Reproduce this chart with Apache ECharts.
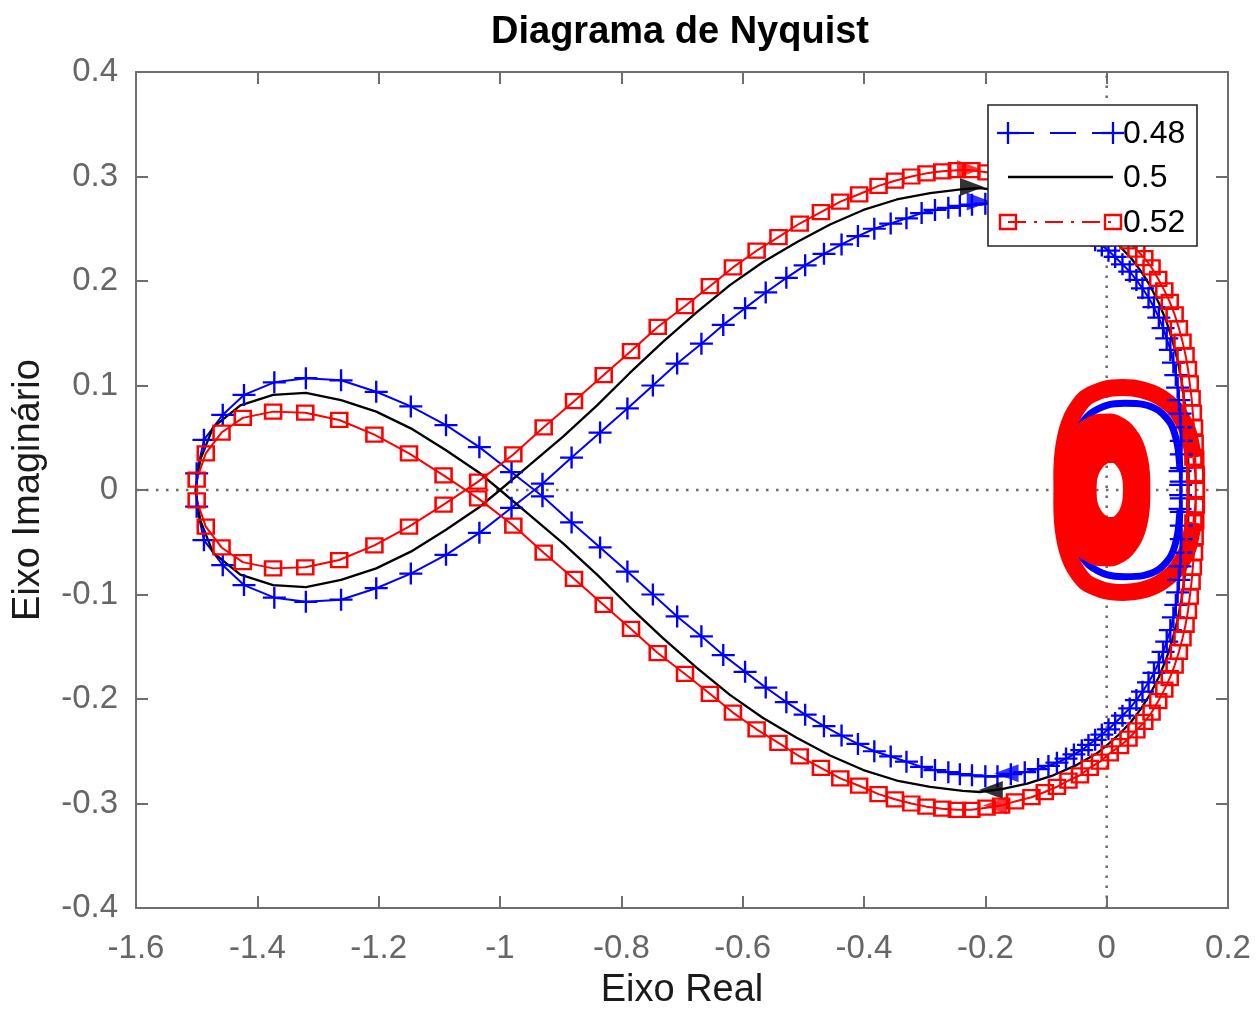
<!DOCTYPE html>
<html>
<head>
<meta charset="utf-8">
<title>Diagrama de Nyquist</title>
<script src="https://cdn.jsdelivr.net/npm/echarts@6/dist/echarts.min.js"></script>
<style>
  html, body { margin: 0; padding: 0; background: #ffffff; }
  #chart { width: 1257px; height: 1012px; }
</style>
</head>
<body>
<div id="chart"></div>
<script>
// Nyquist curves for three gain values. Each branch holds the positive-frequency
// half (from the low-frequency point near -1.5 outward); the negative-frequency
// half is its complex conjugate.

const legendNames = ['0.48', '0.5', '0.52'];

// gain 0.48 (blue, '+')
const blueBranch = [
  [-1.500,-0.016],[-1.488,-0.048],[-1.457,-0.072],[-1.422,-0.091],[-1.372,-0.103],[-1.320,-0.107],
  [-1.262,-0.105],[-1.204,-0.094],[-1.147,-0.080],[-1.089,-0.062],[-1.034,-0.041],[-0.981,-0.017],
  [-0.930,0.006],[-0.882,0.031],[-0.835,0.055],[-0.790,0.078],[-0.748,0.100],[-0.708,0.121],
  [-0.668,0.140],[-0.632,0.158],[-0.596,0.174],[-0.562,0.189],[-0.528,0.203],[-0.497,0.215],
  [-0.466,0.226],[-0.437,0.235],[-0.410,0.243],[-0.383,0.250],[-0.356,0.255],[-0.330,0.260],
  [-0.305,0.265],[-0.283,0.268],[-0.261,0.270],[-0.242,0.272],[-0.222,0.273],[-0.200,0.274],
  [-0.180,0.274],[-0.158,0.272],[-0.135,0.270],[-0.113,0.267],[-0.096,0.264],[-0.082,0.261],
  [-0.067,0.257],[-0.054,0.253],[-0.041,0.249],[-0.030,0.244],[-0.019,0.239],[-0.008,0.234],
  [0.003,0.229],[0.014,0.223],[0.026,0.216],[0.038,0.209],[0.049,0.201],[0.059,0.193],
  [0.069,0.184],[0.078,0.175],[0.086,0.165],[0.093,0.155],[0.099,0.145],[0.105,0.134],
  [0.110,0.122],[0.114,0.110],[0.117,0.098],[0.119,0.086],[0.121,0.073],[0.122,0.060],
  [0.123,0.047],[0.123,0.034],[0.123,0.021],[0.123,0.008],[0.122,-0.005],[0.121,-0.018]
];
const blueSpiral = [
  [0.121,-0.018],[0.117,-0.042],[0.106,-0.063],[0.086,-0.076],[0.060,-0.082],[0.030,-0.083],
  [0.000,-0.081],[-0.027,-0.073],[-0.049,-0.058],[-0.063,-0.038],[-0.068,-0.012],[-0.065,0.014],
  [-0.055,0.035],[-0.038,0.050],[-0.016,0.058],[0.007,0.059],[0.027,0.053],[0.042,0.041],
  [0.050,0.024],[0.052,0.004],[0.049,-0.016],[0.041,-0.033],[0.027,-0.045],[0.010,-0.050],
  [-0.009,-0.049],[-0.027,-0.043],[-0.042,-0.031],[-0.052,-0.015],[-0.055,0.002],[-0.052,0.017],
  [-0.043,0.030],[-0.028,0.040],[-0.010,0.044],[0.008,0.043],[0.024,0.037],[0.036,0.026],
  [0.043,0.012],[0.045,-0.003],[0.041,-0.017],[0.032,-0.029],[0.019,-0.036],[0.004,-0.039],
  [-0.012,-0.038],[-0.026,-0.032],[-0.037,-0.022],[-0.043,-0.010],[-0.044,0.003],[-0.041,0.015],
  [-0.033,0.025],[-0.021,0.032],[-0.006,0.036],[0.009,0.036],[0.022,0.031],[0.032,0.022],
  [0.038,0.010],[0.039,-0.003],[0.036,-0.015],[0.028,-0.025],[0.017,-0.031],[0.004,-0.034],
  [-0.009,-0.033],[-0.020,-0.028],[-0.028,-0.019],[-0.032,-0.008],[-0.033,0.004],[-0.030,0.015],
  [-0.023,0.024],[-0.012,0.030],[0.001,0.032],[0.013,0.031],[0.023,0.026],[0.030,0.018],
  [0.034,0.008],[0.035,-0.003]
];
const blueArrowAt = [[-0.211, 0.276], [-0.165, -0.271]];
const blueArrowDir = [1, -1];

// gain 0.5 (black, solid)
const blackBranch = [
  [-1.502,0.000],[-1.494,-0.029],[-1.473,-0.060],[-1.428,-0.081],[-1.374,-0.091],[-1.320,-0.093],
  [-1.262,-0.086],[-1.204,-0.075],[-1.147,-0.059],[-1.089,-0.038],[-1.033,-0.016],[-1.000,0.000],
  [-0.951,0.024],[-0.896,0.051],[-0.840,0.081],[-0.786,0.112],[-0.731,0.142],[-0.676,0.170],
  [-0.621,0.196],[-0.567,0.218],[-0.511,0.237],[-0.456,0.254],[-0.401,0.268],[-0.346,0.278],
  [-0.291,0.284],[-0.237,0.288],[-0.209,0.289],[-0.171,0.286],[-0.131,0.281],[-0.088,0.273],
  [-0.049,0.263],[-0.016,0.252],[0.005,0.242],[0.022,0.233],[0.040,0.222],[0.057,0.209],
  [0.072,0.195],[0.086,0.179],[0.098,0.162],[0.108,0.144],[0.117,0.124],[0.124,0.103],
  [0.129,0.081],[0.132,0.059],[0.134,0.037],[0.135,0.015],[0.135,-0.007],[0.132,-0.030]
];
const blackSpiral = [
  [0.132,-0.030],[0.127,-0.050],[0.112,-0.071],[0.088,-0.085],[0.058,-0.093],[0.026,-0.095],
  [-0.005,-0.092],[-0.033,-0.084],[-0.055,-0.067],[-0.068,-0.042],[-0.072,-0.012],[-0.068,0.017],
  [-0.057,0.039],[-0.039,0.054],[-0.017,0.061],[0.006,0.061],[0.027,0.056],[0.043,0.044],
  [0.053,0.025],[0.055,0.004],[0.052,-0.017],[0.043,-0.035],[0.029,-0.047],[0.011,-0.052],
  [-0.009,-0.051],[-0.029,-0.045],[-0.045,-0.032],[-0.056,-0.016],[-0.059,0.002],[-0.056,0.018],
  [-0.046,0.031],[-0.031,0.041],[-0.012,0.045],[0.008,0.044],[0.026,0.038],[0.039,0.027],
  [0.046,0.012],[0.048,-0.003]
];
const blackArrowAt = [[-0.222, 0.290], [-0.191, -0.287]];
const blackArrowDir = [1, -1];

// gain 0.52 (red, squares)
const redBranch = [
  [-1.500,-0.010],[-1.485,-0.035],[-1.459,-0.055],[-1.424,-0.069],[-1.374,-0.075],[-1.321,-0.074],
  [-1.265,-0.067],[-1.207,-0.053],[-1.150,-0.035],[-1.093,-0.014],[-1.036,0.008],[-0.978,0.034],
  [-0.928,0.060],[-0.878,0.085],[-0.829,0.110],[-0.784,0.133],[-0.740,0.156],[-0.695,0.176],
  [-0.654,0.195],[-0.616,0.213],[-0.577,0.229],[-0.541,0.242],[-0.506,0.255],[-0.471,0.266],
  [-0.439,0.276],[-0.408,0.283],[-0.376,0.291],[-0.349,0.296],[-0.322,0.300],[-0.297,0.303],
  [-0.271,0.305],[-0.247,0.306],[-0.223,0.306],[-0.198,0.304],[-0.174,0.302],[-0.151,0.298],
  [-0.124,0.294],[-0.102,0.289],[-0.082,0.284],[-0.063,0.278],[-0.044,0.273],[-0.028,0.266],
  [-0.011,0.260],[0.005,0.252],[0.022,0.245],[0.036,0.238],[0.049,0.230],[0.062,0.222],
  [0.074,0.213],[0.085,0.202],[0.095,0.191],[0.104,0.180],[0.112,0.168],[0.119,0.155],
  [0.125,0.142],[0.130,0.129],[0.134,0.116],[0.137,0.102],[0.140,0.088],[0.142,0.074],
  [0.144,0.060],[0.145,0.045],[0.146,0.030],[0.147,0.015],[0.147,0.000],[0.146,-0.015],
  [0.143,-0.031]
];
const redSpiral = [
  [0.143,-0.031],[0.134,-0.056],[0.115,-0.076],[0.088,-0.089],[0.058,-0.096],[0.027,-0.098],
  [-0.005,-0.096],[-0.035,-0.088],[-0.057,-0.070],[-0.070,-0.044],[-0.074,-0.012],[-0.070,0.018],
  [-0.058,0.040],[-0.040,0.056],[-0.018,0.064],[0.006,0.065],[0.028,0.059],[0.045,0.046],
  [0.055,0.027],[0.058,0.004],[0.055,-0.018],[0.046,-0.036],[0.031,-0.049],[0.012,-0.055],
  [-0.010,-0.054],[-0.030,-0.046],[-0.046,-0.033],[-0.058,-0.016],[-0.062,0.002],[-0.059,0.018],
  [-0.049,0.032],[-0.033,0.043],[-0.013,0.048],[0.009,0.047],[0.028,0.041],[0.043,0.029],
  [0.051,0.013],[0.053,-0.003],[0.049,-0.019],[0.039,-0.032],[0.023,-0.041],[0.005,-0.044],
  [-0.013,-0.042],[-0.029,-0.035],[-0.042,-0.024],[-0.049,-0.011],[-0.050,0.003],[-0.047,0.016],
  [-0.038,0.028],[-0.024,0.036],[-0.007,0.040],[0.011,0.040],[0.027,0.035],[0.040,0.025],
  [0.047,0.011],[0.048,-0.003],[0.045,-0.017],[0.035,-0.029],[0.021,-0.036],[0.005,-0.038],
  [-0.011,-0.037],[-0.024,-0.031],[-0.034,-0.021],[-0.039,-0.009],[-0.040,0.004],[-0.037,0.016],
  [-0.029,0.026],[-0.017,0.033],[-0.003,0.037],[0.012,0.037],[0.026,0.032],[0.037,0.023],
  [0.043,0.011],[0.045,-0.002],[0.042,-0.015],[0.034,-0.025],[0.022,-0.032],[0.008,-0.035],
  [-0.006,-0.035],[-0.018,-0.031],[-0.026,-0.023],[-0.030,-0.012],[-0.031,0.001],[-0.029,0.013],
  [-0.022,0.023],[-0.012,0.030],[0.001,0.034],[0.014,0.034],[0.026,0.029],[0.035,0.021],
  [0.040,0.010],[0.041,-0.002]
];
const redArrowAt = [[-0.227, 0.307], [-0.184, -0.302]];
const redArrowDir = [1, -1];

// axes
const xRange = [-1.6, 0.2];
const yRange = [-0.4, 0.4];
const xStep = 0.2;
const yStep = 0.1;
const realAxisLine = [[-1.6, 0], [0.2, 0]];
const imagAxisLine = [[0, -0.4], [0, 0.4]];

// ---------------------------------------------------------------
const FONT = '"Liberation Sans", Arial, Helvetica, sans-serif';
const BLUE = '#0000ff', RED = '#ff0000', BLACK = '#000000';
const AXIS_GRAY = '#6e6e6e';

const conj = pts => pts.map(p => [p[0], -p[1]]);
// negative-frequency half (reversed) followed by the positive-frequency half
const wholeCurve = branch => conj(branch).reverse().concat(branch);

const plusSymbol = 'path://M10,0L10,20M0,10L20,10';

const tickFmt = v => String(Math.round(v * 10) / 10);

function arrows(at, dir) {
  return at.map((p, i) => ({ value: p, symbolRotate: dir[i] > 0 ? -90 : 90 }));
}

const series = [];

// dotted real / imaginary axes
[realAxisLine, imagAxisLine].forEach(d => series.push({
  type: 'line', data: d, showSymbol: false, silent: true, z: 1,
  lineStyle: { color: '#6b6b6b', width: 2.5, type: [2.5, 7.5] }
}));

function addCurve(branch, spiral, arrowAt, arrowDir, color, marker, spiralWidth) {
  const main = {
    type: 'line', data: wholeCurve(branch), silent: true, z: 2,
    lineStyle: { color: color, width: 2 },
    showSymbol: !!marker, showAllSymbol: true
  };
  if (marker === 'plus') {
    main.symbol = plusSymbol;
    main.symbolSize = [23, 22];
    main.itemStyle = { color: 'rgba(0,0,0,0)', borderColor: color, borderWidth: 2.3 };
  } else if (marker === 'square') {
    main.symbol = 'rect';
    main.symbolSize = [16, 14];
    main.itemStyle = { color: 'rgba(0,0,0,0)', borderColor: color, borderWidth: 2.4 };
  } else {
    main.lineStyle.width = 2.3;
  }
  series.push(main);
  // tightly wound high-frequency part, where the markers pile up
  [spiral, conj(spiral)].forEach(s => series.push({
    type: 'line', data: s, silent: true, z: 2, showSymbol: false, smooth: 0.25,
    lineStyle: { color: color, width: spiralWidth, join: 'round', cap: 'butt' }
  }));
  series.push({
    type: 'scatter', data: arrows(arrowAt, arrowDir), silent: true, z: 2,
    symbol: 'triangle', symbolSize: [18, 24],
    itemStyle: { color: color }
  });
}

addCurve(blueBranch, blueSpiral, blueArrowAt, blueArrowDir, BLUE, 'plus', 7);
addCurve(blackBranch, blackSpiral, blackArrowAt, blackArrowDir, BLACK, null, 2.3);
addCurve(redBranch, redSpiral, redArrowAt, redArrowDir, RED, 'square', 17);

function axisCommon(extra) {
  return Object.assign({
    type: 'value',
    axisLine: { show: true, onZero: false, lineStyle: { color: AXIS_GRAY, width: 2 } },
    axisTick: { show: true, inside: true, length: 12, lineStyle: { color: AXIS_GRAY, width: 2 } },
    splitLine: { show: false }
  }, extra);
}

const legendRows = [133, 177, 222];
const LX0 = 1008, LX1 = 1113;

const graphic = [
  {
    type: 'text', x: 680, y: 33, z: 200,
    style: { text: 'Diagrama de Nyquist', font: 'bold 38px ' + FONT, fill: '#000',
      textAlign: 'center', textVerticalAlign: 'middle', verticalAlign: 'middle' }
  },
  {
    type: 'rect', z: 100,
    shape: { x: 988, y: 105, width: 209, height: 141 },
    style: { fill: '#ffffff', stroke: '#262626', lineWidth: 1.6 }
  },
  { type: 'line', z: 101, shape: { x1: LX0, y1: legendRows[0], x2: LX1, y2: legendRows[0] },
    style: { stroke: BLUE, lineWidth: 2, lineDash: [26, 16] } },
  { type: 'line', z: 101, shape: { x1: LX0, y1: legendRows[1], x2: LX1, y2: legendRows[1] },
    style: { stroke: BLACK, lineWidth: 2.3 } },
  { type: 'line', z: 101, shape: { x1: LX0, y1: legendRows[2], x2: LX1, y2: legendRows[2] },
    style: { stroke: RED, lineWidth: 2, lineDash: [18, 8, 3, 8] } }
];
[LX0, LX1].forEach(cx => {
  graphic.push({ type: 'line', z: 102, shape: { x1: cx - 11, y1: legendRows[0], x2: cx + 11, y2: legendRows[0] },
    style: { stroke: BLUE, lineWidth: 2.3 } });
  graphic.push({ type: 'line', z: 102, shape: { x1: cx, y1: legendRows[0] - 11, x2: cx, y2: legendRows[0] + 11 },
    style: { stroke: BLUE, lineWidth: 2.3 } });
  graphic.push({ type: 'rect', z: 102, shape: { x: cx - 8, y: legendRows[2] - 7, width: 16, height: 14 },
    style: { fill: 'rgba(0,0,0,0)', stroke: RED, lineWidth: 2.4 } });
});
legendNames.forEach((name, i) => graphic.push({
  type: 'text', x: 1123, y: legendRows[i] + 1, z: 103,
  style: { text: name, font: '32px ' + FONT, fill: '#000',
    textAlign: 'left', textVerticalAlign: 'middle', verticalAlign: 'middle' }
}));

const chart = echarts.init(document.getElementById('chart'), null, { renderer: 'canvas' });
chart.setOption({
  animation: false,
  backgroundColor: '#ffffff',
  grid: { left: 136, right: 29, top: 72, bottom: 104, containLabel: false, outerBoundsMode: 'none' },
  xAxis: [
    axisCommon({
      min: xRange[0], max: xRange[1], interval: xStep, position: 'bottom',
      name: 'Eixo Real', nameLocation: 'middle', nameGap: 64,
      nameTextStyle: { fontSize: 38, color: '#1a1a1a', fontFamily: FONT },
      axisLabel: { fontSize: 33, color: '#666666', margin: 24, fontFamily: FONT, formatter: tickFmt }
    }),
    axisCommon({
      min: xRange[0], max: xRange[1], interval: xStep, position: 'top',
      axisLabel: { show: false }
    })
  ],
  yAxis: [
    axisCommon({
      min: yRange[0], max: yRange[1], interval: yStep, position: 'left',
      name: 'Eixo Imaginário', nameLocation: 'middle', nameGap: 88, nameRotate: 90,
      nameTextStyle: { fontSize: 38, color: '#1a1a1a', fontFamily: FONT },
      axisLabel: { fontSize: 33, color: '#666666', margin: 18, fontFamily: FONT, formatter: tickFmt }
    }),
    axisCommon({
      min: yRange[0], max: yRange[1], interval: yStep, position: 'right',
      axisLabel: { show: false }
    })
  ],
  series: series,
  graphic: graphic
});
</script>
</body>
</html>
